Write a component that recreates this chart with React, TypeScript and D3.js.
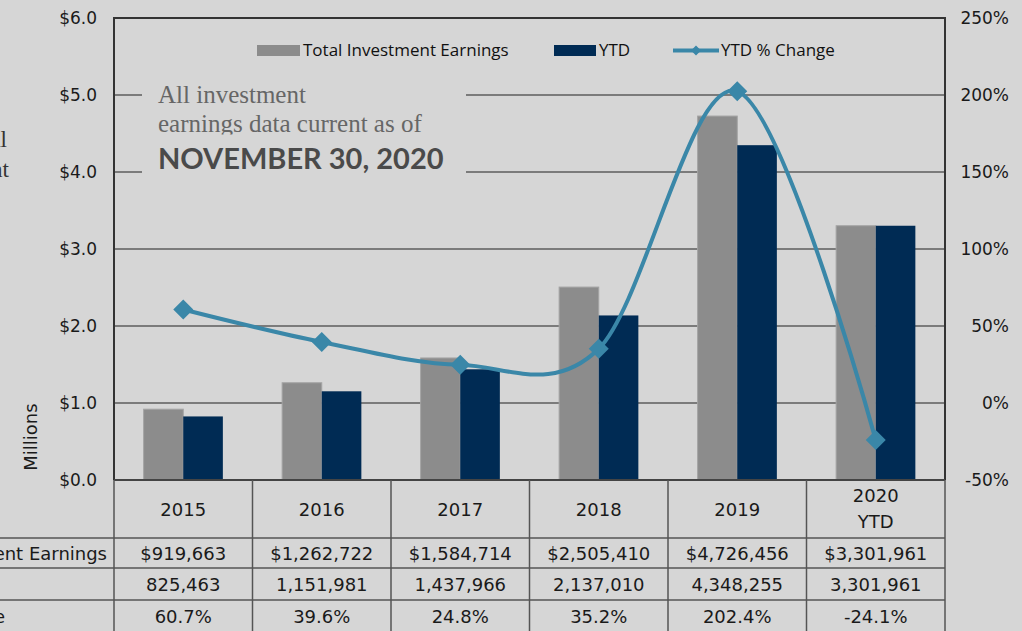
import React from "react";
import * as d3 from "d3";

const years = ["2015", "2016", "2017", "2018", "2019", "2020"];
const yearLabels = [["2015"], ["2016"], ["2017"], ["2018"], ["2019"], ["2020", "YTD"]];
const totalEarnings = [919663, 1262722, 1584714, 2505410, 4726456, 3301961];
const ytdEarnings = [825463, 1151981, 1437966, 2137010, 4348255, 3301961];
const ytdPctChange = [60.7, 39.6, 24.8, 35.2, 202.4, -24.1];
const leftTicks = [0, 1, 2, 3, 4, 5, 6];
const rightTicks = [-50, 0, 50, 100, 150, 200, 250];

const W = 1022;
const H = 631;
const plot = { left: 114, right: 945, top: 18, bottom: 480 };
const rowLines = [538, 568, 600];

const BG = "#d6d6d6";
const GRAY = "#8c8c8c";
const NAVY = "#002b54";
const TEAL = "#3a87a8";
const TICK_FONT = "'DejaVu Sans', sans-serif";

const fmtDollar = (v: number) => "$" + d3.format(",")(v);
const fmtNum = d3.format(",");
const fmtPct = (v: number) => v.toFixed(1) + "%";

const App: React.FC = () => {
  const x = d3.scaleBand().domain(years).range([plot.left, plot.right]).padding(0);
  const bw = x.bandwidth();
  const xs = d3
    .scaleBand()
    .domain(["total", "ytd"])
    .range([bw * 0.214, bw * 0.786])
    .padding(0);
  const yL = d3.scaleLinear().domain([0, 6]).range([plot.bottom, plot.top]);
  const yR = d3.scaleLinear().domain([-50, 250]).range([plot.bottom, plot.top]);

  const cx = (y: string) => (x(y) as number) + bw / 2;
  const pts: [number, number][] = years.map((yr, i) => [cx(yr), yR(ytdPctChange[i])]);
  const line = d3.line().curve(d3.curveCardinal.tension(0))(pts) as string;
  const diamond = (px: number, py: number, r: number) =>
    `M${px},${py - r}L${px + r},${py}L${px},${py + r}L${px - r},${py}Z`;

  const rows = [
    totalEarnings.map(fmtDollar),
    ytdEarnings.map(fmtNum),
    ytdPctChange.map(fmtPct),
  ];
  const rowMid = [553, 584, 616];

  return (
    <div style={{ position: "fixed", left: 0, top: 0 }}>
      <svg width={W} height={H} style={{ display: "block", background: BG }}>
        <rect x={0} y={0} width={W} height={H} fill={BG} />

        {/* side title, cut off at the left edge like the source */}
        <g fontFamily="'Liberation Serif', serif" fontSize={23} fill="#333">
          <text x={7} y={147} textAnchor="end">Total</text>
          <text x={9} y={177} textAnchor="end">Investment</text>
        </g>

        {/* gridlines */}
        {leftTicks.slice(1, -1).map((t) => (
          <line key={t} x1={plot.left} x2={plot.right} y1={yL(t)} y2={yL(t)} stroke="#5c5c5c" strokeWidth={1.5} />
        ))}

        {/* bars */}
        {years.map((yr, i) => (
          <g key={yr} transform={`translate(${x(yr)},0)`}>
            <rect
              x={xs("total")}
              y={yL(totalEarnings[i] / 1e6)}
              width={xs.bandwidth()}
              height={plot.bottom - yL(totalEarnings[i] / 1e6)}
              fill={GRAY}
              stroke="#a3a3a3"
              strokeWidth={1}
            />
            <rect
              x={xs("ytd")}
              y={yL(ytdEarnings[i] / 1e6)}
              width={xs.bandwidth()}
              height={plot.bottom - yL(ytdEarnings[i] / 1e6)}
              fill={NAVY}
            />
          </g>
        ))}

        {/* annotation box */}
        <rect x={142} y={78} width={324} height={106} fill={BG} />
        <g fill="#666" fontFamily="'Liberation Serif', serif" fontSize={25}>
          <text x={158} y={103}>All investment</text>
          <text x={158} y={132}>earnings data current as of</text>
        </g>
        <rect x={150} y={134.5} width={310} height={8} fill={BG} />
        <text x={158} y={169} fill="#4a4a4a" fontFamily="Lato, sans-serif" fontWeight={700} fontSize={29}>
          NOVEMBER 30, 2020
        </text>

        {/* % change line */}
        <path d={line} fill="none" stroke={TEAL} strokeWidth={4} />
        {pts.map(([px, py], i) => (
          <path key={i} d={diamond(px, py, 10)} fill={TEAL} />
        ))}

        {/* frame */}
        <path
          d={`M${plot.left},${plot.bottom}V${plot.top}H${plot.right}V${plot.bottom}`}
          fill="none"
          stroke="#333"
          strokeWidth={2}
        />
        <line x1={plot.left} x2={plot.right} y1={plot.bottom} y2={plot.bottom} stroke="#444" strokeWidth={2} />

        {/* axes */}
        <g fontFamily={TICK_FONT} fontSize={17} fill="#1a1a1a">
          {leftTicks.map((t) => (
            <text key={t} x={97} y={yL(t) + 6} textAnchor="end">
              {"$" + t.toFixed(1)}
            </text>
          ))}
          {rightTicks.map((t) => (
            <text key={t} x={1009} y={yR(t) + 6} textAnchor="end">
              {t + "%"}
            </text>
          ))}
        </g>
        <text
          transform={`translate(37,437) rotate(-90)`}
          textAnchor="middle"
          fontFamily={TICK_FONT}
          fontSize={18}
          fill="#1a1a1a"
        >
          Millions
        </text>

        {/* legend */}
        <g fontFamily="'Open Sans', sans-serif" fontSize={17} fill="#111">
          <rect x={257} y={45} width={43} height={11} fill={GRAY} />
          <text x={303} y={56}>Total Investment Earnings</text>
          <rect x={554} y={45} width={42} height={11} fill={NAVY} />
          <text x={599} y={56}>YTD</text>
          <line x1={673} x2={719} y1={50.5} y2={50.5} stroke={TEAL} strokeWidth={4} />
          <path d={diamond(696, 50.5, 5)} fill={TEAL} />
          <text x={721} y={56}>YTD % Change</text>
        </g>

        {/* data table */}
        <g stroke="#555" strokeWidth={1.5}>
          {rowLines.map((ry) => (
            <line key={ry} x1={0} x2={plot.right} y1={ry} y2={ry} />
          ))}
          {years.map((yr) => (
            <line key={yr} x1={x(yr)} x2={x(yr)} y1={plot.bottom} y2={H} />
          ))}
          <line x1={plot.right} x2={plot.right} y1={plot.bottom} y2={H} />
        </g>
        <g fontFamily={TICK_FONT} fontSize={18} fill="#1a1a1a" textAnchor="middle">
          {years.map((yr, i) => {
            const lab = yearLabels[i];
            const y0 = lab.length === 1 ? 516 : 502;
            return (
              <text key={yr} x={cx(yr)} y={y0}>
                {lab.map((s, j) => (
                  <tspan key={j} x={cx(yr)} dy={j === 0 ? 0 : 26}>
                    {s}
                  </tspan>
                ))}
              </text>
            );
          })}
          {rows.map((r, ri) =>
            r.map((v, i) => (
              <text key={ri + "-" + i} x={cx(years[i])} y={rowMid[ri] + 7}>
                {v}
              </text>
            ))
          )}
        </g>
        <g fontFamily={TICK_FONT} fontSize={18} fill="#1a1a1a" textAnchor="end">
          <text x={107} y={560}>Total Investment Earnings</text>
          <text x={-80} y={591}>YTD</text>
          <text x={5} y={623}>YTD % Change</text>
        </g>
      </svg>
    </div>
  );
};

export default App;
